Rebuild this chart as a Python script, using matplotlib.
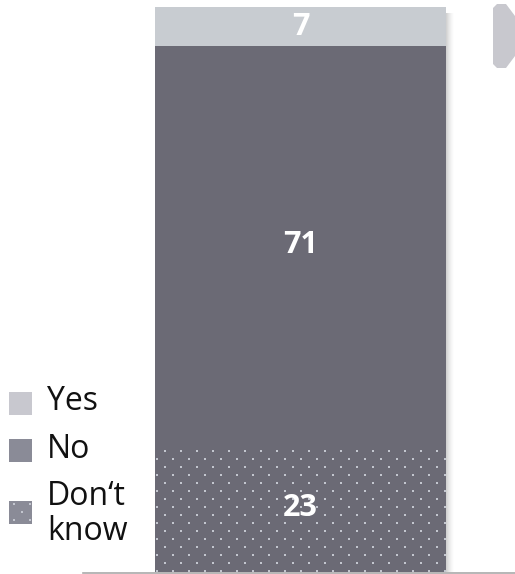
import numpy as np
import matplotlib
matplotlib.use("Agg")
import matplotlib.pyplot as plt
from matplotlib.patches import Rectangle, Polygon
from matplotlib.lines import Line2D

plt.rcParams["font.family"] = ["Open Sans", "DejaVu Sans"]

# survey answers (percent), stacked bottom to top
categories = ["Don\u2018t know", "No", "Yes"]
values = [23, 71, 7]
bar_colors = ["#6b6a75", "#6b6a75", "#c8ccd1"]
legend_order = ["Yes", "No", "Don\u2018t\nknow"]
legend_colors = ["#c8c8cf", "#8a8b97", "#8a8b97"]
dot_color = "#c3c6cf"

W, H = 515, 574
fig = plt.figure(figsize=(W / 100, H / 100), dpi=100)

# axes placed in pixel terms: bar spans x 155..446, y 572..7
bx0, bx1, by_top, by_bot = 155, 446, 7, 572
ax = fig.add_axes([bx0 / W, (H - by_bot) / H, (bx1 - bx0) / W, (by_bot - by_top) / H])
total = sum(values)
ax.set_xlim(-0.5, 0.5)
ax.set_ylim(0, total)
ax.axis("off")

bottom = 0
for cat, v, c in zip(categories, values, bar_colors):
    ax.bar(0, v, width=1.0, bottom=bottom, color=c, linewidth=0, zorder=2)
    ax.text(0, bottom + v / 2, str(v), ha="center", va="center", color="white",
            fontsize=22, fontweight="bold", zorder=4)
    bottom += v

# dotted texture on the "don't know" segment
px_x = (bx1 - bx0) / 1.0
px_y = (by_bot - by_top) / total
dy = 8 / px_y
dx = 16 / px_x
ys = np.arange(0.5 / px_y + 0.05, values[0] - 0.3, dy)
xs_list, ys_list = [], []
for i, yy in enumerate(ys):
    start = -0.5 + 2 / px_x + (dx / 2 if i % 2 else 0)
    xs = np.arange(start, 0.5, dx)
    xs_list.extend(xs)
    ys_list.extend([yy] * len(xs))
ax.scatter(xs_list, ys_list, marker="s", s=2.2, color=dot_color, linewidths=0, zorder=3)

# soft shadow on the right edge of the bar
for k in range(8):
    fig.patches.append(Rectangle(((bx1 + k) / W, (H - by_bot) / H), 1 / W,
                                 (by_bot - by_top - 6) / H, transform=fig.transFigure,
                                 color="#808080", alpha=0.35 * (1 - k / 8) ** 1.5,
                                 linewidth=0, zorder=1))

# baseline
fig.lines.append(Line2D([83 / W, 1.0], [(H - 572.5) / H] * 2, transform=fig.transFigure,
                        color="#a9a9a9", linewidth=1.2, zorder=5))

# navigation tab at the top right
tab = [(497, 4), (506, 4), (530, 36), (506, 68), (497, 68), (493, 64), (493, 8)]
fig.patches.append(Polygon([(x / W, (H - y) / H) for x, y in tab], closed=True,
                           transform=fig.transFigure, color="#c8c8ce", linewidth=0))

# legend
sq_tops = [392, 439, 501]
text_y = [402, 450, 514]
for i, (lab, c) in enumerate(zip(legend_order, legend_colors)):
    y0 = sq_tops[i]
    fig.patches.append(Rectangle((9 / W, (H - y0 - 23) / H), 23 / W, 23 / H,
                                 transform=fig.transFigure, color=c, linewidth=0))
    fig.text(47 / W, (H - text_y[i]) / H, lab, ha="left", va="center",
             fontsize=23, color="#111111", linespacing=1.05)

# a few dots on the "don't know" legend swatch
for (px, py) in [(13, 505), (29, 505), (21, 513), (13, 521), (29, 521)]:
    fig.patches.append(Rectangle((px / W, (H - py) / H), 2 / W, 2 / H,
                                 transform=fig.transFigure, color=dot_color, linewidth=0))

fig.savefig("out.png", dpi=100)
